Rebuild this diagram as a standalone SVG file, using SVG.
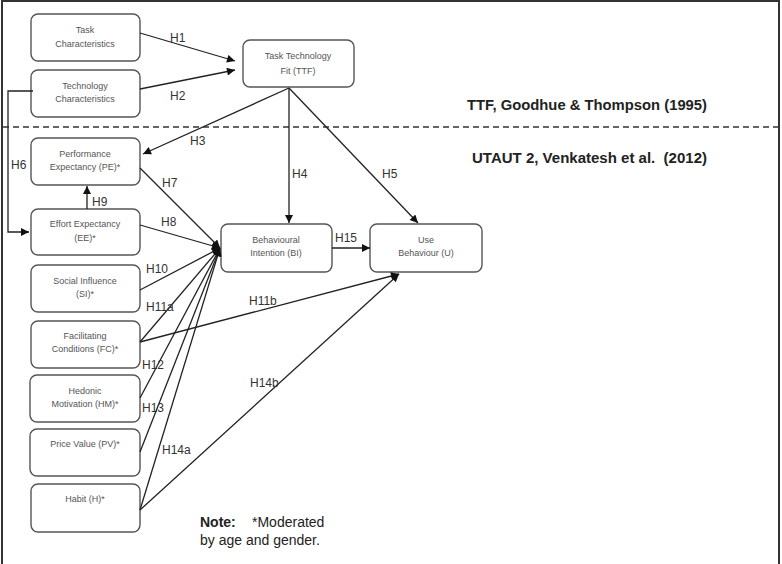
<svg xmlns="http://www.w3.org/2000/svg" width="782" height="564" viewBox="0 0 782 564">
<defs>
<style>
.node rect{fill:#fff;stroke:#555;stroke-width:1.4}
.node text{font-family:"Liberation Sans",Arial,sans-serif;font-size:9px;fill:#555;text-anchor:middle}
.conn line,.conn path{stroke:#222;stroke-width:1.3;fill:none}
.lbl{font-family:"Liberation Sans",Arial,sans-serif;font-size:12px;fill:#333}
.head{font-family:"Liberation Sans",Arial,sans-serif;font-size:14px;font-weight:bold;fill:#222}
.note{font-family:"Liberation Sans",Arial,sans-serif;font-size:14px;fill:#222}
</style>
<marker id="arr" viewBox="0 0 10 10" refX="10" refY="5" markerWidth="10" markerHeight="8" markerUnits="userSpaceOnUse" orient="auto">
<path d="M0,0 L10,5 L0,10 z" fill="#111"/>
</marker>
</defs>
<rect x="0" y="0" width="782" height="564" fill="#fff"/>
<rect x="2" y="1" width="777" height="570" fill="none" stroke="#333" stroke-width="2"/>
<line x1="3" y1="127" x2="779" y2="127" stroke="#333" stroke-width="1.5" stroke-dasharray="6,4"/>
<text class="head" x="467" y="110" textLength="240" lengthAdjust="spacingAndGlyphs">TTF, Goodhue &amp; Thompson (1995)</text>
<text class="head" x="472" y="163" textLength="235" lengthAdjust="spacingAndGlyphs">UTAUT 2, Venkatesh et al.&#160; (2012)</text>

<g id="task" class="node"><rect x="31" y="14" width="109" height="47" rx="7"/><text x="85" y="33">Task</text><text x="85" y="47">Characteristics</text></g>
<g id="tech" class="node"><rect x="31" y="70" width="109" height="47" rx="7"/><text x="85" y="89">Technology</text><text x="85" y="102">Characteristics</text></g>
<g id="ttf" class="node"><rect x="243" y="40" width="111" height="47" rx="7"/><text x="298" y="59">Task Technology</text><text x="298" y="74">Fit (TTF)</text></g>
<g id="pe" class="node"><rect x="31" y="138" width="109" height="47" rx="7"/><text x="85" y="157">Performance</text><text x="85" y="170">Expectancy (PE)*</text></g>
<g id="ee" class="node"><rect x="31" y="209" width="109" height="46" rx="7"/><text x="85" y="227">Effort Expectancy</text><text x="85" y="241">(EE)*</text></g>
<g id="si" class="node"><rect x="31" y="265" width="109" height="47" rx="7"/><text x="85" y="284">Social Influence</text><text x="85" y="297">(SI)*</text></g>
<g id="fc" class="node"><rect x="31" y="321" width="109" height="47" rx="7"/><text x="85" y="339">Facilitating</text><text x="85" y="352">Conditions (FC)*</text></g>
<g id="hm" class="node"><rect x="30" y="375" width="110" height="47" rx="7"/><text x="85" y="394">Hedonic</text><text x="85" y="407">Motivation (HM)*</text></g>
<g id="pv" class="node"><rect x="30" y="429" width="110" height="47" rx="7"/><text x="85" y="447">Price Value (PV)*</text></g>
<g id="habit" class="node"><rect x="31" y="484" width="109" height="48" rx="7"/><text x="85" y="502">Habit (H)*</text></g>
<g id="bi" class="node"><rect x="221" y="224" width="111" height="48" rx="7"/><text x="276" y="243">Behavioural</text><text x="276" y="256">Intention (BI)</text></g>
<g id="ub" class="node"><rect x="370" y="224" width="112" height="48" rx="7"/><text x="426" y="243">Use</text><text x="426" y="256">Behaviour (U)</text></g>

<g id="connectors" class="conn">
<line x1="140" y1="33" x2="235" y2="61" marker-end="url(#arr)"/>
<line x1="140" y1="89" x2="235" y2="70" marker-end="url(#arr)"/>
<line x1="289" y1="88" x2="143" y2="154" marker-end="url(#arr)"/>
<line x1="289" y1="88" x2="289" y2="223" marker-end="url(#arr)"/>
<line x1="289" y1="88" x2="418" y2="223" marker-end="url(#arr)"/>
<path d="M33,91 H8 V232 H29" marker-end="url(#arr)"/>
<line x1="87" y1="209" x2="87" y2="186" marker-end="url(#arr)"/>
<line x1="140" y1="168" x2="220" y2="248" marker-end="url(#arr)"/>
<line x1="140" y1="225" x2="220" y2="248" marker-end="url(#arr)"/>
<line x1="140" y1="290" x2="220" y2="248" marker-end="url(#arr)"/>
<line x1="140" y1="342" x2="220" y2="248" marker-end="url(#arr)"/>
<line x1="140" y1="342" x2="399" y2="274" marker-end="url(#arr)"/>
<line x1="140" y1="398" x2="220" y2="248" marker-end="url(#arr)"/>
<line x1="140" y1="452" x2="220" y2="248" marker-end="url(#arr)"/>
<line x1="140" y1="510" x2="220" y2="248" marker-end="url(#arr)"/>
<line x1="140" y1="510" x2="399" y2="274" marker-end="url(#arr)"/>
<line x1="332" y1="248" x2="370" y2="248" marker-end="url(#arr)"/>
</g>

<g id="labels">
<text class="lbl" x="170" y="42">H1</text>
<text class="lbl" x="170" y="100">H2</text>
<text class="lbl" x="190" y="145">H3</text>
<text class="lbl" x="292" y="178">H4</text>
<text class="lbl" x="382" y="178">H5</text>
<text class="lbl" x="11" y="169">H6</text>
<text class="lbl" x="162" y="187">H7</text>
<text class="lbl" x="161" y="226">H8</text>
<text class="lbl" x="92" y="206">H9</text>
<text class="lbl" x="146" y="273">H10</text>
<text class="lbl" x="146" y="311">H11a</text>
<text class="lbl" x="249" y="305">H11b</text>
<text class="lbl" x="142" y="369">H12</text>
<text class="lbl" x="142" y="412">H13</text>
<text class="lbl" x="162" y="454">H14a</text>
<text class="lbl" x="250" y="387">H14b</text>
<text class="lbl" x="335" y="242">H15</text>
</g>

<g id="note">
<text class="note" x="200" y="527"><tspan font-weight="bold">Note:</tspan></text>
<text class="note" x="252" y="527">*Moderated</text>
<text class="note" x="200" y="545">by age and gender.</text>
</g>
</svg>
